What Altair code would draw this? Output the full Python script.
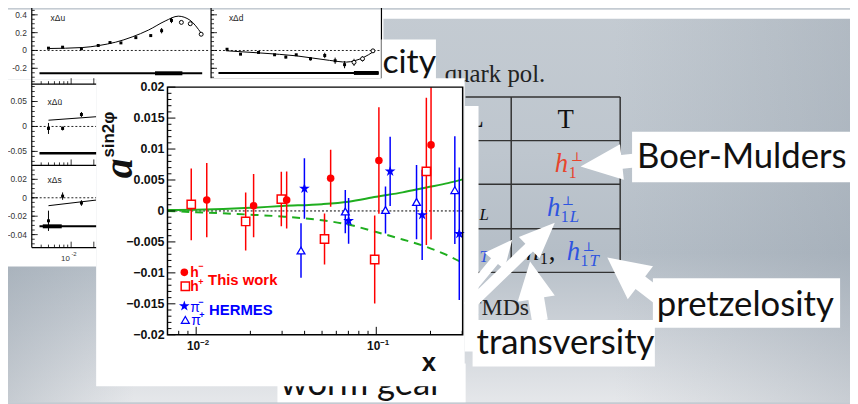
import math
import altair as alt
import pandas as pd

# ================= data: main panel  a^{sin2phi} vs x =================
hm_x = [0.01145, 0.02084, 0.0318, 0.0558, 0.1034, 0.2014]
hm_y = [0.00176, 0.00085, 0.00176, 0.00528, 0.00816, 0.01067]
hm_e = [0.0060, 0.0051, 0.0046, 0.0046, 0.0086, 0.0153]

hp_x = [0.00939, 0.01883, 0.0297, 0.0516, 0.0980, 0.1897]
hp_y = [0.00107, -0.00170, 0.00192, -0.00453, -0.00784, 0.00640]
hp_e = [0.0058, 0.0047, 0.0044, 0.0041, 0.0071, 0.0119]

pim_x = [0.0399, 0.0702, 0.1194, 0.1798, 0.2890]
pim_y = [0.00363, -0.00160, 0.00640, -0.00064, -0.00368]
pim_e = [0.0049, 0.0037, 0.0056, 0.0073, 0.0107]

pip_x = [0.0382, 0.0673, 0.1125, 0.1673, 0.2730]
pip_y = [-0.00640, -0.00010, 0.00016, 0.00144, 0.00336]
pip_e = [0.0044, 0.0035, 0.0038, 0.0060, 0.0087]

curve_x = [0.00693, 0.01, 0.02, 0.03, 0.05, 0.07, 0.1, 0.14, 0.19, 0.25, 0.3018]
solid_y = [0.00015, 0.0002, 0.0005, 0.0008, 0.0011, 0.0015, 0.0023, 0.0030, 0.0038, 0.0045, 0.0051]
dash_y = [0.0, -0.0002, -0.0006, -0.0009, -0.0015, -0.0022, -0.0034, -0.0046, -0.0058, -0.0072, -0.0084]

y_major = [-0.02, -0.015, -0.01, -0.005, 0, 0.005, 0.01, 0.015, 0.02]
y_labels = ["\u22120.02", "\u22120.015", "\u22120.01", "\u22120.005", "0", "0.005", "0.01", "0.015", "0.02"]
y_minor = [round(-0.02 + 0.001 * i, 3) for i in range(41) if i % 5]
x_major = [0.01, 0.1]
x_major_exp = ["\u22122", "\u22121"]
x_minor = [0.008, 0.009, 0.02, 0.03, 0.04, 0.05, 0.06, 0.07, 0.08, 0.09, 0.2, 0.3]

# ================= data: background inset panels =================
ix = [0.0050, 0.0077, 0.0137, 0.0229, 0.0328, 0.0458, 0.0723, 0.114, 0.159, 0.215, 0.291, 0.382, 0.533]
du_y = [0.026, 0.037, 0.019, 0.056, 0.089, 0.085, 0.144, 0.167, 0.222, 0.337, 0.315, 0.300, 0.182]
du_e = [0.008, 0.008, 0.010, 0.008, 0.008, 0.008, 0.010, 0.012, 0.030, 0.030, 0.015, 0.012, 0.010]
du_open = [0] * 10 + [1, 1, 1]
du_cx = [0.0050, 0.0142, 0.0236, 0.039, 0.0646, 0.107, 0.177, 0.265, 0.378, 0.538]
du_cy = [0.022, 0.033, 0.056, 0.093, 0.152, 0.230, 0.330, 0.385, 0.340, 0.190]

dd_y = [0.014, -0.041, -0.022, -0.048, -0.074, -0.048, -0.093, -0.056, -0.115, -0.159, -0.133, -0.093, -0.004]
dd_e = [0.010, 0.008, 0.008, 0.008, 0.015, 0.010, 0.020, 0.030, 0.035, 0.040, 0.040, 0.030, 0.012]
dd_open = [0] * 10 + [1, 1, 1]
dd_cx = [0.00485, 0.0158, 0.0459, 0.133, 0.229, 0.296, 0.395, 0.546]
dd_cy = [-0.003, -0.030, -0.060, -0.111, -0.130, -0.115, -0.078, -0.011]

ub_x = [0.0050, 0.0077, 0.0137]
ub_y = [-0.004, -0.004, 0.024]
ub_e = [0.011, 0.004, 0.005]
ub_cx = [0.0050, 0.0215]
ub_cy = [0.0125, 0.0195]

s_x = [0.0050, 0.0077, 0.0137]
s_y = [-0.025, 0.0018, -0.0057]
s_e = [0.011, 0.004, 0.003]
s_cx = [0.0050, 0.0215]
s_cy = [-0.0086, -0.0025]

# ================= layout (page pixels) =================
OX, OY = 169, 86          # page position of the main plot area corner
W, H = 298, 250
CW, CH = 850, 396


def cx(v):
    return v - OX


def cy(v):
    return v - OY


def PX(f):
    return alt.X(f"{f}:Q", scale=None, axis=None)


def PY(f):
    return alt.Y(f"{f}:Q", scale=None, axis=None)


def boxes(rows, **kw):
    d = pd.DataFrame([{"x": cx(a), "x2": cx(b), "y": cy(c), "y2": cy(e)} for a, b, c, e in rows])
    return alt.Chart(d).mark_rect(**kw).encode(x=PX("x"), x2=alt.X2("x2"), y=PY("y"), y2=alt.Y2("y2"))


def segs(rows, **kw):
    d = pd.DataFrame([{"x": cx(a), "x2": cx(b), "y": cy(c), "y2": cy(e)} for a, b, c, e in rows])
    return alt.Chart(d).mark_rule(**kw).encode(x=PX("x"), x2=alt.X2("x2"), y=PY("y"), y2=alt.Y2("y2"))


def texts(rows, **kw):
    d = pd.DataFrame([{"x": cx(a), "y": cy(b), "t": t} for a, b, t in rows])
    return alt.Chart(d).mark_text(**kw).encode(x=PX("x"), y=PY("y"), text="t:N")


def marks(rows, **kw):
    d = pd.DataFrame([{"x": cx(a), "y": cy(b)} for a, b in rows])
    return alt.Chart(d).mark_point(opacity=1, **kw).encode(x=PX("x"), y=PY("y"))


STAR = ("M0,-1L0.2245,-0.309L0.9511,-0.309L0.3633,0.118L0.5878,0.809L0,0.382"
        "L-0.5878,0.809L-0.3633,0.118L-0.9511,-0.309L-0.2245,-0.309Z")

layers = []

# ---------- slide background ----------
layers.append(boxes([(8, 858, 8, 404)], fill={
    "gradient": "linear", "x1": 0, "y1": 0, "x2": 0, "y2": 1,
    "stops": [{"offset": 0, "color": "#c4cbd2"}, {"offset": 0.36, "color": "#bec6ce"},
              {"offset": 0.62, "color": "#b5bec7"}, {"offset": 0.82, "color": "#ced3d9"},
              {"offset": 1, "color": "#e5e7ea"}]}))
layers.append(boxes([(8, 858, 8, 404)], fill={
    "gradient": "linear", "x1": 0, "y1": 0, "x2": 1, "y2": 0,
    "stops": [{"offset": 0, "color": "rgba(140,152,164,0.35)"}, {"offset": 0.15, "color": "rgba(140,152,164,0)"},
              {"offset": 0.72, "color": "rgba(140,152,164,0)"}, {"offset": 1, "color": "rgba(135,147,160,0.3)"}]}))
layers.append(boxes([(8, 858, 8, 17), (8, 387, 8, 78), (8, 97, 78, 267)], fill="white"))

# ---------- background inset panels ----------
PANELS = [
    dict(x0=32, x1=212, yt=5, yb=83, dom=[-0.378, 0.489], xr=212, name="x\u0394u", nx=51, ny=19,
         px=ix, py=du_y, pe=du_e, po=du_open, cxs=du_cx, cys=du_cy,
         band=[(0.0038, 0.55, -0.256, 2), (0.13, 0.30, -0.256, 4)],
         ymaj=[-0.2, 0, 0.2, 0.4], ylab=["-0.2", "0", "0.2", "0.4"], ymin=0.05, lab=True, xa=32),
    dict(x0=213, x1=385, yt=5, yb=78, dom=[-0.322, 0.489], xr=385, name="x\u0394d", nx=231, ny=19,
         px=ix, py=dd_y, pe=dd_e, po=dd_open, cxs=dd_cx, cys=dd_cy,
         band=[(0.0038, 0.64, -0.252, 2), (0.29, 0.64, -0.252, 4)],
         ymaj=[-0.2, 0, 0.2, 0.4], ylab=[], ymin=0.05, lab=False, xa=213),
    dict(x0=32, x1=212, yt=85, yb=165, dom=[-0.078, 0.0808], xr=97, name="x\u0394\u016b", nx=48, ny=104,
         px=ub_x, py=ub_y, pe=ub_e, po=[0, 0, 0], cxs=ub_cx, cys=ub_cy,
         band=[(0.0038, 0.03, -0.0535, 2.5)],
         ymaj=[-0.05, 0, 0.05], ylab=["-0.05", "0", "0.05"], ymin=0.01, lab=True, xa=32),
    dict(x0=32, x1=212, yt=167, yb=248, dom=[-0.0541, 0.033], xr=97, name="x\u0394s", nx=48, ny=183,
         px=s_x, py=s_y, pe=s_e, po=[0, 0, 0], cxs=s_cx, cys=s_cy,
         band=[(0.0038, 0.03, -0.031, 2), (0.0042, 0.0075, -0.031, 4)],
         ymaj=[-0.04, -0.02, 0, 0.02], ylab=["-0.04", "-0.02", "0", "0.02"], ymin=0.005, lab=True, xa=32),
]

for p in PANELS:
    sx = alt.Scale(type="log", domain=[0.003, 0.7], range=[cx(p["x0"]), cx(p["x1"])], nice=False)
    sy = alt.Scale(domain=p["dom"], range=[cy(p["yb"]), cy(p["yt"])], nice=False, zero=False)

    def ix_(f, sx=sx):
        return alt.X(f"{f}:Q", scale=sx, axis=None)

    def iy_(f, sy=sy):
        return alt.Y(f"{f}:Q", scale=sy, axis=None)

    layers.append(alt.Chart(pd.DataFrame({"v": [0]})).mark_rule(color="#222", strokeWidth=1, strokeDash=[2, 2]).encode(
        y=iy_("v"), x=alt.value(cx(p["x0"])), x2=alt.value(cx(p["xr"]))))
    bd = pd.DataFrame([{"a": a, "b": b, "v": v, "w": w} for a, b, v, w in p["band"]])
    for w in sorted(set(bd["w"])):
        layers.append(alt.Chart(bd[bd["w"] == w]).mark_rule(color="black", strokeWidth=w).encode(
            x=ix_("a"), x2=alt.X2("b"), y=iy_("v")))
    layers.append(alt.Chart(pd.DataFrame({"x": p["cxs"], "y": p["cys"]})).mark_line(
        color="black", strokeWidth=1, interpolate="monotone").encode(x=ix_("x"), y=iy_("y")))
    pdf = pd.DataFrame({"x": p["px"], "y": p["py"], "lo": [a - b for a, b in zip(p["py"], p["pe"])],
                        "hi": [a + b for a, b in zip(p["py"], p["pe"])], "o": p["po"]})
    layers.append(alt.Chart(pdf).mark_rule(color="black", strokeWidth=1).encode(
        x=ix_("x"), y=iy_("lo"), y2=alt.Y2("hi")))
    layers.append(alt.Chart(pdf[pdf["o"] == 0]).mark_point(
        shape="square", filled=True, color="black", size=9, opacity=1).encode(x=ix_("x"), y=iy_("y")))
    if (pdf["o"] == 1).any():
        layers.append(alt.Chart(pdf[pdf["o"] == 1]).mark_point(
            shape="circle", fill="white", stroke="black", strokeWidth=1, size=16, opacity=1).encode(
            x=ix_("x"), y=iy_("y")))
    # y ticks (inside)
    lo, hi = p["dom"]
    step = p["ymin"]
    k0 = math.ceil(lo / step - 1e-9)
    k1 = math.floor(hi / step + 1e-9)
    mins = [round(k * step, 4) for k in range(k0, k1 + 1)]
    layers.append(alt.Chart(pd.DataFrame({"v": mins})).mark_rule(color="black", strokeWidth=0.8).encode(
        y=iy_("v"), x=alt.value(cx(p["xa"])), x2=alt.value(cx(p["xa"]) + 3)))
    layers.append(alt.Chart(pd.DataFrame({"v": p["ymaj"]})).mark_rule(color="black", strokeWidth=0.8).encode(
        y=iy_("v"), x=alt.value(cx(p["xa"])), x2=alt.value(cx(p["xa"]) + 6)))
    if p["lab"]:
        layers.append(alt.Chart(pd.DataFrame({"v": p["ymaj"], "t": p["ylab"]})).mark_text(
            align="right", baseline="middle", font="Liberation Sans", fontSize=8.5, color="#333").encode(
            y=iy_("v"), x=alt.value(cx(27)), text="t:N"))
        # bottom axis ticks
        xt = pd.DataFrame({"v": [0.004, 0.005, 0.006, 0.007, 0.008, 0.009, 0.01, 0.02],
                           "l": [3, 3, 3, 3, 3, 3, 6, 6]})
        for ln in (3, 6):
            layers.append(alt.Chart(xt[xt["l"] == ln]).mark_rule(color="black", strokeWidth=0.8).encode(
                x=ix_("v"), y=alt.value(cy(p["yb"])), y2=alt.value(cy(p["yb"]) - ln)))

    layers.append(texts([(p["nx"], p["ny"], p["name"])], align="left", baseline="alphabetic",
                        font="Liberation Sans", fontSize=8.5, color="#222"))

# inset frames
layers.append(segs([(32, 32, 5, 248), (213, 213, 5, 78), (385, 385, 5, 78),
                    (32, 100, 83, 83), (32, 100, 165, 165), (32, 100, 248, 248), (213, 385, 78, 78)],
                   color="black", strokeWidth=1.2))
layers.append(texts([(66, 262, "10")], align="center", baseline="alphabetic", font="Liberation Sans",
                    fontSize=8, color="#333"))
layers.append(texts([(72, 256, "-2")], align="left", baseline="alphabetic", font="Liberation Sans",
                    fontSize=6, color="#333"))

# ---------- TMD table ----------
layers.append(segs([(470, 626, 96, 96), (470, 626, 140, 140), (470, 626, 184, 184), (470, 626, 229, 229),
                    (470, 626, 273, 273), (516, 516, 96, 273), (626, 626, 96, 273)],
                   color="#333", strokeWidth=1.5))
SERIF = "Liberation Serif"
layers.append(texts([(571, 127, "T"), (480, 126, "L")], align="center", baseline="alphabetic", font=SERIF,
                    fontSize=27, color="#111"))
layers.append(texts([(449, 81, "quark pol.")], align="left", baseline="alphabetic",
                    font=SERIF, fontSize=25, color="#222"))
layers.append(texts([(534, 316, "TMDs")], align="right", baseline="alphabetic",
                    font=SERIF, fontSize=24, color="#222"))
# italic h's
layers.append(texts([(560, 172, "h")], align="left", baseline="alphabetic", font=SERIF, fontStyle="italic",
                    fontSize=27, color="#e8452c"))
layers.append(texts([(574, 178, "1")], align="left", baseline="alphabetic", font=SERIF, fontSize=16,
                    color="#e8452c"))
layers.append(texts([(576, 161, "\u22a5")], align="left", baseline="alphabetic", font="DejaVu Serif",
                    fontSize=13, color="#e8452c"))
layers.append(texts([(552, 216, "h"), (572, 261, "h")], align="left", baseline="alphabetic", font=SERIF,
                    fontStyle="italic", fontSize=27, color="#2f55e0"))
layers.append(texts([(566, 222, "1"), (586, 267, "1")], align="left", baseline="alphabetic", font=SERIF,
                    fontSize=16, color="#2f55e0"))
layers.append(texts([(575, 222, "L"), (595, 267, "T"), (484, 263, "T")], align="left", baseline="alphabetic",
                    font=SERIF, fontStyle="italic", fontSize=17, color="#2f55e0"))
layers.append(texts([(567, 205, "\u22a5"), (588, 251, "\u22a5")], align="left", baseline="alphabetic",
                    font="DejaVu Serif", fontSize=13, color="#2f55e0"))
layers.append(texts([(531, 261, "h")], align="left", baseline="alphabetic", font=SERIF, fontStyle="italic",
                    fontSize=27, color="#111"))
layers.append(texts([(545, 265, "1")], align="left", baseline="alphabetic", font=SERIF, fontSize=16,
                    color="#111"))
layers.append(texts([(554, 261, ",")], align="left", baseline="alphabetic", font=SERIF, fontSize=27,
                    color="#111"))
layers.append(texts([(484, 220, "L")], align="left", baseline="alphabetic", font=SERIF, fontStyle="italic",
                    fontSize=17, color="#111"))

# white strip (edge of an underlying figure)
layers.append(boxes([(469, 483, 105, 353)], fill="white"))


# ---------- white arrows ----------
def arrow_row(tip, tail, hw, hl, sw):
    dx, dy = tip[0] - tail[0], tip[1] - tail[1]
    L = math.hypot(dx, dy)
    ang = math.degrees(math.atan2(dx, -dy)) % 360
    u = L / 2
    a, b, s = hw / 2 / u, -1 + hl / u, sw / 2 / u
    path = (f"M0,-1L{a:.3f},{b:.3f}L{s:.3f},{b:.3f}L{s:.3f},1L{-s:.3f},1L{-s:.3f},{b:.3f}"
            f"L{-a:.3f},{b:.3f}Z")
    return {"x": cx((tip[0] + tail[0]) / 2), "y": cy((tip[1] + tail[1]) / 2), "shape": path,
            "size": L * L, "angle": ang}


arrows = pd.DataFrame([
    arrow_row((586, 166), (642, 160), 36, 42, 14),
    arrow_row((560, 223), (472, 308), 30, 36, 11),
    arrow_row((517, 240), (474, 292), 26, 28, 9),
    arrow_row((535, 262), (545, 322), 38, 38, 16),
    arrow_row((613, 258), (668, 300), 42, 42, 16),
])
layers.append(alt.Chart(arrows).mark_point(filled=True, color="white", opacity=1, strokeWidth=0).encode(
    x=PX("x"), y=PY("y"), shape=alt.Shape("shape:N", scale=None),
    size=alt.Size("size:Q", scale=None), angle=alt.Angle("angle:Q", scale=None)))

# ---------- label boxes ----------
layers.append(boxes([(385, 440, 38, 78), (638, 858, 131, 182), (659, 848, 279, 329), (477, 661, 321, 368),
                     (280, 470, 365, 404)], fill="white"))
LATO = "Lato"
layers.append(texts([(643, 168, "Boer-Mulders"), (663, 317, "pretzelosity"), (481, 355, "transversity"),
                     (283, 397, "worm gear")], align="left", baseline="alphabetic", font=LATO, fontSize=35,
                    color="#111"))
layers.append(texts([(386, 72, "city")], align="left", baseline="alphabetic", font=LATO, fontSize=34,
                    color="#111"))

# ---------- main panel ----------
layers.append(boxes([(97, 469, 77, 388)], fill="white"))

XS = alt.Scale(type="log", domain=[0.00693, 0.3018], range=[0, W], nice=False)
YS = alt.Scale(domain=[-0.02, 0.02], range=[H, 0], nice=False, zero=False)


def mx(f):
    return alt.X(f"{f}:Q", scale=XS, axis=None)


def my(f):
    return alt.Y(f"{f}:Q", scale=YS, axis=None)


RED, BLUE, GREEN = "#ff0000", "#0000ff", "#1fae1f"

layers.append(alt.Chart(pd.DataFrame({"v": [0]})).mark_rule(color="black", strokeWidth=1, strokeDash=[2, 2]).encode(
    y=my("v"), x=alt.value(0), x2=alt.value(W)))
cdf = pd.DataFrame({"x": curve_x, "s": solid_y, "d": dash_y})
layers.append(alt.Chart(cdf).mark_line(color=GREEN, strokeWidth=2, interpolate="monotone", clip=True).encode(
    x=mx("x"), y=my("s")))
layers.append(alt.Chart(cdf).mark_line(color=GREEN, strokeWidth=2, strokeDash=[8, 6], interpolate="monotone",
                                       clip=True).encode(x=mx("x"), y=my("d")))


def ebars(xv, yv, ev, color):
    d = pd.DataFrame({"x": xv, "lo": [a - b for a, b in zip(yv, ev)], "hi": [a + b for a, b in zip(yv, ev)]})
    return alt.Chart(d).mark_rule(color=color, strokeWidth=1.5, clip=True).encode(
        x=mx("x"), y=my("lo"), y2=alt.Y2("hi"))


def pts(xv, yv, **kw):
    return alt.Chart(pd.DataFrame({"x": xv, "y": yv})).mark_point(opacity=1, **kw).encode(x=mx("x"), y=my("y"))


layers += [ebars(hp_x, hp_y, hp_e, RED), ebars(hm_x, hm_y, hm_e, RED),
           ebars(pip_x, pip_y, pip_e, BLUE), ebars(pim_x, pim_y, pim_e, BLUE)]
layers.append(pts(hp_x, hp_y, shape="square", fill="white", stroke=RED, strokeWidth=1.5, size=70))
layers.append(pts(hm_x, hm_y, shape="circle", fill=RED, stroke=RED, strokeWidth=0, size=58))
layers.append(pts(pip_x, pip_y, shape="triangle-up", fill="white", stroke=BLUE, strokeWidth=1.3, size=62))
layers.append(pts(pim_x, pim_y, shape=STAR, fill=BLUE, stroke=BLUE, strokeWidth=0, size=130))

# legend
layers.append(marks([(186, 273)], shape="circle", fill=RED, strokeWidth=0, size=58))
layers.append(marks([(187, 287)], shape="square", fill="white", stroke=RED, strokeWidth=1.5, size=70))
layers.append(marks([(186, 307)], shape=STAR, fill=BLUE, strokeWidth=0, size=130))
layers.append(marks([(187, 321)], shape="triangle-up", fill="white", stroke=BLUE, strokeWidth=1.3, size=62))
SANS = "Liberation Sans"
layers.append(texts([(192, 278, "h"), (192, 292, "h")], align="left", baseline="alphabetic", font=SANS,
                    fontWeight="bold", fontSize=14, color=RED))
layers.append(texts([(200, 270, "\u2212"), (200, 286, "+")], align="left", baseline="alphabetic", font=SANS,
                    fontWeight="bold", fontSize=9, color=RED))
layers.append(texts([(210, 286, "This work")], align="left", baseline="alphabetic", font=SANS,
                    fontWeight="bold", fontSize=15, color=RED))
layers.append(texts([(192, 313, "\u03c0"), (193, 326, "\u03c0")], align="left", baseline="alphabetic",
                    font=SANS, fontSize=14, color=BLUE))
layers.append(texts([(200, 306, "\u2212"), (201, 319, "+")], align="left", baseline="alphabetic", font=SANS,
                    fontWeight="bold", fontSize=9, color=BLUE))
layers.append(texts([(211, 316, "HERMES")], align="left", baseline="alphabetic", font=SANS,
                    fontWeight="bold", fontSize=15, color=BLUE))

# frame and ticks
layers.append(boxes([(169, 467, 86, 336)], fillOpacity=0, stroke="black", strokeWidth=1.5))
layers.append(alt.Chart(pd.DataFrame({"v": y_major})).mark_rule(color="black", strokeWidth=1).encode(
    y=my("v"), x=alt.value(0), x2=alt.value(8)))
layers.append(alt.Chart(pd.DataFrame({"v": y_minor})).mark_rule(color="black", strokeWidth=1).encode(
    y=my("v"), x=alt.value(0), x2=alt.value(4)))
layers.append(alt.Chart(pd.DataFrame({"v": x_major})).mark_rule(color="black", strokeWidth=1).encode(
    x=mx("v"), y=alt.value(H), y2=alt.value(H - 8)))
layers.append(alt.Chart(pd.DataFrame({"v": x_minor})).mark_rule(color="black", strokeWidth=1).encode(
    x=mx("v"), y=alt.value(H), y2=alt.value(H - 4)))

# tick labels
layers.append(alt.Chart(pd.DataFrame({"v": y_major, "t": y_labels})).mark_text(
    align="right", baseline="middle", font=SANS, fontWeight="bold", fontSize=12.5, color="#111").encode(
    y=my("v"), x=alt.value(-3), text="t:N"))
layers.append(alt.Chart(pd.DataFrame({"v": x_major, "t": ["10", "10"]})).mark_text(
    align="right", baseline="alphabetic", font=SANS, fontWeight="bold", fontSize=12, color="#111", dx=4).encode(
    x=mx("v"), y=alt.value(cy(351)), text="t:N"))
layers.append(alt.Chart(pd.DataFrame({"v": x_major, "t": x_major_exp})).mark_text(
    align="left", baseline="alphabetic", font=SANS, fontWeight="bold", fontSize=8, color="#111", dx=4).encode(
    x=mx("v"), y=alt.value(cy(346)), text="t:N"))

# axis titles
layers.append(texts([(121, 168, "a")], align="center", baseline="middle", font=SERIF, fontWeight="bold",
                    fontStyle="italic", fontSize=40, angle=270, color="#111"))
layers.append(texts([(110, 134, "sin2\u03c6")], align="center", baseline="middle", font=SANS,
                    fontWeight="bold", fontSize=17, angle=270, color="#111"))
layers.append(texts([(433, 365, "x")], align="center", baseline="middle", font=SANS, fontWeight="bold",
                    fontSize=26, color="#111"))

chart = alt.layer(*layers).resolve_scale(x="independent", y="independent").properties(
    width=W, height=H,
    padding={"left": OX - 8, "top": OY - 8, "right": CW - (OX - 8) - W, "bottom": CH - (OY - 8) - H},
    autosize=alt.AutoSizeParams(type="none"),
    background="#c4cbd2",
).configure_view(strokeWidth=0)

chart.save("out.html", embed_options={"renderer": "svg", "actions": False})
